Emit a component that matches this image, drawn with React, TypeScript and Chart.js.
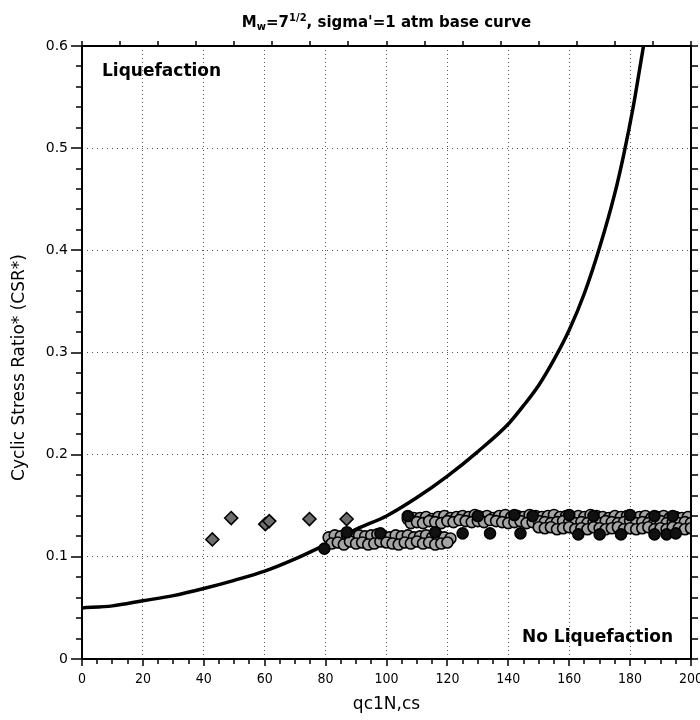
import React, { useEffect, useRef } from "react";
import { Chart, registerables } from "chart.js";

Chart.register(...registerables);

// ---- axis ranges / ticks ----
const X_MIN = 0;
const X_MAX = 200;
const X_MAJOR = 20;
const X_MINOR = 5;
const Y_MIN = 0;
const Y_MAX = 0.6;
const Y_MAJOR = 0.1;
const Y_MINOR = 0.02;
const TOP_TICK = 12.5;

// ---- base curve (CRR, Mw=7.5, sigma'=1 atm) ----
const curveX = [0, 10, 20, 30, 40, 50, 60, 70, 80, 90, 100, 110, 120, 130, 140, 145, 150, 155, 160, 165, 170, 175, 178, 181, 183, 184.4];
const curveY = [0.05, 0.052, 0.057, 0.062, 0.069, 0.077, 0.086, 0.098, 0.112, 0.127, 0.14, 0.158, 0.179, 0.203, 0.23, 0.248, 0.268, 0.293, 0.322, 0.358, 0.403, 0.456, 0.495, 0.54, 0.575, 0.6];

// ---- diamond points ----
const diamondX = [42.8, 49, 60.2, 61.5, 74.7, 86.9];
const diamondY = [0.117, 0.138, 0.132, 0.135, 0.137, 0.137];

// ---- circle points: lower-left band (two rows) ----
const lowUpX = [81, 83, 85, 87, 89, 91, 93, 95, 97, 99, 101, 103, 105, 107, 109, 111, 113, 115, 117, 119, 121];
const lowUpY = [0.119, 0.121, 0.12, 0.122, 0.119, 0.121, 0.12, 0.121, 0.122, 0.12, 0.119, 0.121, 0.12, 0.121, 0.119, 0.12, 0.121, 0.119, 0.12, 0.119, 0.118];
const lowDnX = [82, 84, 86, 88, 90, 92, 94, 96, 98, 100, 102, 104, 106, 108, 110, 112, 114, 116, 118, 120];
const lowDnY = [0.113, 0.114, 0.112, 0.115, 0.113, 0.114, 0.112, 0.113, 0.115, 0.114, 0.113, 0.112, 0.114, 0.113, 0.115, 0.113, 0.114, 0.112, 0.113, 0.114];

// ---- circle points: right band, three rows ----
const rowAX = [107, 109, 111, 113, 115, 117, 119, 121, 123, 125, 127, 129, 131, 133, 135, 137, 139, 141, 143, 145, 147, 149, 151, 153, 155, 157, 159, 161, 163, 165, 167, 169, 171, 173, 175, 177, 179, 181, 183, 185, 187, 189, 191, 193, 195, 197, 199];
const rowAY = [
  0.137, 0.138, 0.138, 0.139, 0.137, 0.139, 0.14, 0.138, 0.139, 0.14,
  0.139, 0.141, 0.139, 0.14, 0.138, 0.14, 0.141, 0.139, 0.14, 0.139,
  0.141, 0.14, 0.139, 0.14, 0.141, 0.139, 0.14, 0.138, 0.14, 0.139,
  0.141, 0.14, 0.139, 0.138, 0.14, 0.139, 0.14, 0.138, 0.139, 0.14,
  0.138, 0.139, 0.14, 0.138, 0.139, 0.138, 0.139,
];
const rowBX = [108, 110, 112, 114, 116, 118, 120, 122, 124, 126, 128, 130, 132, 134, 136, 138, 140, 142, 144, 146, 148, 150, 152, 154, 156, 158, 160, 162, 164, 166, 168, 170, 172, 174, 176, 178, 180, 182, 184, 186, 188, 190, 192, 194, 196, 198, 200];
const rowBY = [
  0.133, 0.134, 0.133, 0.135, 0.134, 0.133, 0.135, 0.134, 0.136, 0.135,
  0.134, 0.135, 0.134, 0.136, 0.135, 0.134, 0.133, 0.134, 0.135, 0.133,
  0.134, 0.135, 0.134, 0.133, 0.134, 0.135, 0.134, 0.133, 0.134, 0.133,
  0.134, 0.133, 0.135, 0.134, 0.133, 0.134, 0.135, 0.133, 0.134, 0.133,
  0.134, 0.135, 0.133, 0.134, 0.133, 0.134, 0.133,
];
const rowCX = [150, 152, 154, 156, 158, 160, 162, 164, 166, 168, 170, 172, 174, 176, 178, 180, 182, 184, 186, 188, 190, 192, 194, 196, 198, 200];
const rowCY = [0.129, 0.128, 0.129, 0.127, 0.128, 0.129, 0.127, 0.128, 0.127, 0.129, 0.128, 0.127, 0.128, 0.129, 0.127, 0.128, 0.127, 0.128, 0.129, 0.127, 0.128, 0.127, 0.129, 0.128, 0.127, 0.128];

// ---- dark (solid) circles ----
const darkX = [79.6, 87, 98, 107, 116, 130, 142, 148, 160, 168, 180, 188, 194, 125, 134, 144, 163, 170, 177, 188, 192, 195];
const darkY = [0.108, 0.124, 0.123, 0.14, 0.124, 0.14, 0.141, 0.14, 0.141, 0.14, 0.141, 0.14, 0.14, 0.123, 0.123, 0.123, 0.122, 0.122, 0.122, 0.122, 0.122, 0.123];

// ---- texts ----
const titleParts = [
  { t: "M", sub: 0 },
  { t: "w", sub: 1 },
  { t: "=7", sub: 0 },
  { t: "1/2", sub: -1 },
  { t: ", sigma'=1 atm base curve", sub: 0 },
];
const xTitle = "qc1N,cs";
const yTitle = "Cyclic Stress Ratio* (CSR*)";
const upperLabel = "Liquefaction";
const lowerLabel = "No Liquefaction";

const FONT = "'DejaVu Sans', Verdana, sans-serif";

const pts = (xs: number[], ys: number[]) => xs.map((x, i) => ({ x, y: ys[i] }));

const framePlugin = {
  id: "frame",
  afterDatasetsDraw(chart: any) {
    const { ctx, chartArea: a, scales } = chart;
    const xs = scales.x;
    const ys = scales.y;
    ctx.save();
    ctx.strokeStyle = "#000";
    ctx.lineWidth = 2;
    ctx.strokeRect(a.left, a.top, a.right - a.left, a.bottom - a.top);

    ctx.lineWidth = 1.5;
    ctx.beginPath();
    const nx = Math.round((X_MAX - X_MIN) / X_MINOR);
    for (let i = 0; i <= nx; i++) {
      const v = X_MIN + i * X_MINOR;
      const px = Math.round(xs.getPixelForValue(v));
      const major = (i * X_MINOR) % X_MAJOR === 0;
      ctx.moveTo(px, a.bottom);
      ctx.lineTo(px, a.bottom + (major ? 7 : 5));
    }
    const nt = Math.round((X_MAX - X_MIN) / TOP_TICK);
    for (let i = 0; i <= nt; i++) {
      const px = Math.round(xs.getPixelForValue(X_MIN + i * TOP_TICK));
      ctx.moveTo(px, a.top);
      ctx.lineTo(px, a.top - 5);
    }
    const ny = Math.round((Y_MAX - Y_MIN) / Y_MINOR);
    const per = Math.round(Y_MAJOR / Y_MINOR);
    for (let i = 0; i <= ny; i++) {
      const py = Math.round(ys.getPixelForValue(Y_MIN + i * Y_MINOR));
      const major = i % per === 0;
      ctx.moveTo(a.left, py);
      ctx.lineTo(a.left - (major ? 11 : 6), py);
      ctx.moveTo(a.right, py);
      ctx.lineTo(a.right + 7, py);
    }
    ctx.stroke();
    ctx.restore();
  },
  afterDraw(chart: any) {
    const { ctx, chartArea: a } = chart;
    ctx.save();
    ctx.fillStyle = "#000";
    const big = `bold 15px ${FONT}`;
    const small = `bold 10px ${FONT}`;
    let total = 0;
    const widths = titleParts.map((p) => {
      ctx.font = p.sub ? small : big;
      const w = ctx.measureText(p.t).width;
      total += w;
      return w;
    });
    let cx = (a.left + a.right) / 2 - total / 2;
    const baseY = 27;
    ctx.textBaseline = "alphabetic";
    ctx.textAlign = "left";
    titleParts.forEach((p, i) => {
      ctx.font = p.sub ? small : big;
      const dy = p.sub === 1 ? 3 : p.sub === -1 ? -6 : 0;
      ctx.fillText(p.t, cx, baseY + dy);
      cx += widths[i];
    });

    ctx.font = `bold 17px ${FONT}`;
    ctx.textAlign = "left";
    ctx.fillText(upperLabel, a.left + 20, a.top + 30);
    ctx.textAlign = "right";
    ctx.fillText(lowerLabel, a.right - 18, a.bottom - 17);

    ctx.font = `17px ${FONT}`;
    ctx.textAlign = "center";
    ctx.textBaseline = "middle";
    ctx.fillText(xTitle, (a.left + a.right) / 2, 705);
    ctx.save();
    ctx.translate(20, (a.top + a.bottom) / 2 + 15);
    ctx.rotate(-Math.PI / 2);
    ctx.fillText(yTitle, 0, 0);
    ctx.restore();
    ctx.restore();
  },
};

export default function App() {
  const ref = useRef<HTMLCanvasElement | null>(null);
  useEffect(() => {
    if (!ref.current) return;
    const circleStyle = {
      pointStyle: "circle",
      pointRadius: 5.5,
      pointBackgroundColor: "#a4a4a4",
      pointBorderColor: "#000",
      pointBorderWidth: 1.6,
      showLine: false,
      order: 2,
    };
    const chart = new Chart(ref.current, {
      type: "scatter",
      data: {
        datasets: [
          {
            label: "curve",
            data: pts(curveX, curveY),
            showLine: true,
            borderColor: "#000",
            borderWidth: 3.5,
            pointRadius: 0,
            cubicInterpolationMode: "monotone",
            order: 5,
          },
          { label: "low band lower", data: pts(lowDnX, lowDnY), ...circleStyle },
          { label: "low band upper", data: pts(lowUpX, lowUpY), ...circleStyle },
          { label: "row C", data: pts(rowCX, rowCY), ...circleStyle },
          { label: "row B", data: pts(rowBX, rowBY), ...circleStyle },
          { label: "row A", data: pts(rowAX, rowAY), ...circleStyle },
          {
            label: "dark",
            data: pts(darkX, darkY),
            ...circleStyle,
            pointBackgroundColor: "#111",
            order: 1,
          },
          {
            label: "diamonds",
            data: pts(diamondX, diamondY),
            pointStyle: "rectRot",
            pointRadius: 6.5,
            pointBackgroundColor: "#6e6e6e",
            pointBorderColor: "#000",
            pointBorderWidth: 1.6,
            showLine: false,
            order: 0,
          },
        ],
      } as any,
      options: {
        animation: false,
        responsive: false,
        maintainAspectRatio: false,
        layout: { padding: { top: 46, right: 29, bottom: 0, left: 0 } },
        plugins: {
          legend: { display: false },
          tooltip: { enabled: false },
          title: { display: false },
        },
        scales: {
          x: {
            type: "linear",
            min: X_MIN,
            max: X_MAX,
            afterFit: (s: any) => {
              s.height = 61;
            },
            ticks: {
              stepSize: X_MAJOR,
              color: "#000",
              padding: 12,
              maxRotation: 0,
              font: { family: "'DejaVu Sans Condensed', 'DejaVu Sans', sans-serif", size: 14 },
            },
            grid: { color: "#555", lineWidth: 1, drawTicks: false },
            border: { display: false, dash: [1, 3] },
          },
          y: {
            type: "linear",
            min: Y_MIN,
            max: Y_MAX,
            afterFit: (s: any) => {
              s.width = 82;
            },
            ticks: {
              stepSize: Y_MAJOR,
              color: "#000",
              padding: 14,
              font: { family: FONT, size: 14 },
            },
            grid: { color: "#555", lineWidth: 1, drawTicks: false },
            border: { display: false, dash: [1, 4] },
          },
        },
      } as any,
      plugins: [framePlugin],
    });
    return () => chart.destroy();
  }, []);
  return (
    <div
      style={{
        position: "absolute",
        left: 0,
        top: 0,
        width: 700,
        height: 720,
        overflow: "hidden",
        background: "#fff",
      }}
    >
      <canvas ref={ref} width={720} height={720} style={{ width: 720, height: 720, display: "block" }} />
    </div>
  );
}
